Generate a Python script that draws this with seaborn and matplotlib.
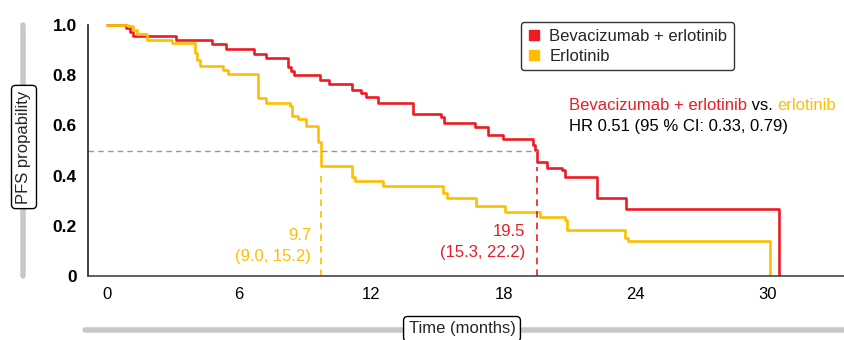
import numpy as np
import pandas as pd
import seaborn as sns
from matplotlib import pyplot as plt
from matplotlib.lines import Line2D

sns.set_style("white")
plt.rcParams["font.family"] = ["Liberation Sans", "DejaVu Sans"]

arms = ["Bevacizumab + erlotinib", "Erlotinib"]
colors = ["#ED1C24", "#FFBE00"]

# Kaplan-Meier steps (time in months, PFS probability)
bev_time = [0, 0.86, 1.05, 1.2, 3.14, 4.76, 5.41, 6.68, 7.21, 8.24, 8.36, 8.51,
            9.65, 10.09, 11.12, 11.55, 11.74, 12.3, 13.9, 15.18, 15.29, 16.7,
            17.3, 17.99, 19.35, 19.42, 19.5, 19.99, 20.67, 20.77, 22.26, 23.55,
            30.51]
bev_surv = [1.0, 0.988, 0.973, 0.956, 0.939, 0.923, 0.904, 0.884, 0.868, 0.831,
            0.815, 0.800, 0.780, 0.764, 0.741, 0.728, 0.712, 0.688, 0.646, 0.632,
            0.610, 0.592, 0.562, 0.546, 0.520, 0.503, 0.454, 0.431, 0.421, 0.394,
            0.312, 0.265, 0.0]
erl_time = [0, 0.97, 1.2, 1.35, 1.8, 2.94, 4.0, 4.1, 4.23, 5.26, 5.49, 6.85,
            7.21, 8.29, 8.4, 8.65, 9.05, 9.6, 9.7, 11.12, 11.27, 12.53, 15.26,
            15.44, 16.77, 18.05, 19.65, 20.79, 20.9, 23.51, 23.67, 30.1]
erl_surv = [1.0, 0.996, 0.979, 0.965, 0.940, 0.927, 0.889, 0.862, 0.838, 0.822,
            0.804, 0.710, 0.690, 0.679, 0.639, 0.626, 0.599, 0.532, 0.437, 0.394,
            0.378, 0.357, 0.331, 0.311, 0.277, 0.254, 0.235, 0.222, 0.185, 0.150,
            0.139, 0.0]

medians = [19.5, 9.7]
median_ci = ["(15.3, 22.2)", "(9.0, 15.2)"]
hr_text = "HR 0.51 (95 % CI: 0.33, 0.79)"

x_ticks = [0, 6, 12, 18, 24, 30]
y_ticks = [0, 0.2, 0.4, 0.6, 0.8, 1.0]
y_ticklabels = ["0", "0.2", "0.4", "0.6", "0.8", "1.0"]

df = pd.concat([
    pd.DataFrame({"time": bev_time, "surv": bev_surv, "arm": arms[0]}),
    pd.DataFrame({"time": erl_time, "surv": erl_surv, "arm": arms[1]}),
])

W, H = 845, 340
fs = 12
fig = plt.figure(figsize=(W / 100, H / 100), dpi=100)
ax = fig.add_axes([88 / W, 1 - 276 / H, 1 - 88 / W, 256 / H])

sns.lineplot(data=df, x="time", y="surv", hue="arm", palette=colors,
             hue_order=arms, estimator=None, sort=False, drawstyle="steps-post",
             linewidth=1.9, legend=False, ax=ax)

ax.set_xlim(-0.86, 33.5)
ax.set_ylim(0, 1.02)

# median lines
curves = [(bev_time, bev_surv), (erl_time, erl_surv)]
ax.hlines(0.5, -0.86, medians[0], colors="#999999", linestyles=(0, (4, 3)), linewidth=1)
for (t, s), med, c in zip(curves, medians, colors):
    idx = np.searchsorted(t, med, side="right") - 1
    ax.vlines(med, 0, s[idx] - 0.02, colors=c, linestyles=(0, (4, 3)), linewidth=1.2)

sns.despine(ax=ax)
ax.spines["left"].set_bounds(0, 1)
ax.spines["left"].set_color("#222222")
ax.spines["bottom"].set_color("#444444")
ax.spines["left"].set_linewidth(1.2)
ax.spines["bottom"].set_linewidth(1.2)

ax.set_xticks(x_ticks)
ax.set_yticks(y_ticks)
ax.set_yticklabels(y_ticklabels, fontweight="bold")
ax.tick_params(axis="y", direction="in", length=6.5, width=1.2, pad=8,
               labelsize=12.5, colors="#222222", labelcolor="black")
ax.tick_params(axis="x", direction="in", length=4, width=1, pad=8,
               labelsize=fs, colors="#444444", labelcolor="black")
ax.set_xlabel("")
ax.set_ylabel("")

# median annotations
fig.text(525 / W, 1 - 232 / H, f"{medians[0]}", color=colors[0], ha="right", va="center", fontsize=fs)
fig.text(525 / W, 1 - 252 / H, median_ci[0], color=colors[0], ha="right", va="center", fontsize=fs)
fig.text(311 / W, 1 - 235 / H, f"{medians[1]}", color=colors[1], ha="right", va="center", fontsize=fs)
fig.text(311 / W, 1 - 256 / H, median_ci[1], color=colors[1], ha="right", va="center", fontsize=fs)

# HR text
t1 = fig.text(569 / W, 1 - 105 / H, "Bevacizumab + erlotinib", color=colors[0],
              ha="left", va="center", fontsize=fs)
t2 = ax.annotate(" vs. ", xy=(1, 0), xycoords=t1, va="bottom", ha="left",
                 fontsize=fs, color="black")
ax.annotate("erlotinib", xy=(1, 0), xycoords=t2, va="bottom", ha="left",
            fontsize=fs, color=colors[1])
fig.text(569 / W, 1 - 127 / H, hr_text, color="black", ha="left", va="center", fontsize=fs)

# legend
handles = [Line2D([], [], marker="s", linestyle="", markersize=7.5, color=c) for c in colors]
leg = fig.legend(handles, arms, loc="upper left", bbox_to_anchor=(521 / W, 1 - 22 / H),
                 fontsize=fs, frameon=True, handlelength=0.8, handletextpad=0.5,
                 borderpad=0.4, labelspacing=0.3, borderaxespad=0, fancybox=True)
leg.get_frame().set_edgecolor("black")
leg.get_frame().set_linewidth(1)

# axis label decorations
fig.add_artist(Line2D([23 / W, 23 / W], [1 - 25 / H, 1 - 276 / H], color="#c8c8c8",
                      linewidth=4, transform=fig.transFigure))
fig.add_artist(Line2D([85 / W, 1], [1 - 330 / H, 1 - 330 / H], color="#c8c8c8",
                      linewidth=4, transform=fig.transFigure))
box = dict(boxstyle="round,pad=0.3,rounding_size=0.25", facecolor="white", edgecolor="black", linewidth=1)
fig.text(24 / W, 1 - 147 / H, "PFS propability", rotation=90, ha="center", va="center",
         fontsize=fs, bbox=box)
fig.text(462 / W, 1 - 329 / H, "Time (months)", ha="center", va="center",
         fontsize=fs, bbox=box)

fig.savefig("out.png", dpi=100)
